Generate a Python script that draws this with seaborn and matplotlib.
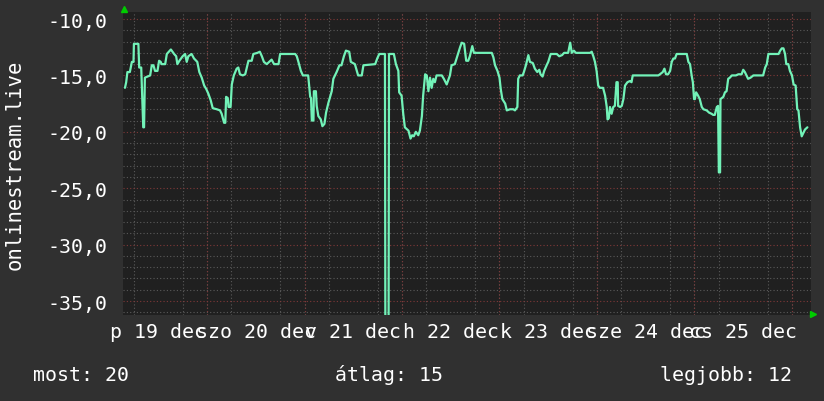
import numpy as np
import pandas as pd
import seaborn as sns
import matplotlib
matplotlib.use("Agg")
import matplotlib.pyplot as plt
from matplotlib.ticker import MultipleLocator, FixedLocator, FuncFormatter

# ora (19 dec 00:00-tol) es jelszint ertekek, a kepről leolvasva
ora = [3.8, 4.1, 4.4, 5.0, 5.5, 5.9, 6.0, 7.1, 7.3, 7.8, 8.3, 8.5, 8.7, 10.0, 10.4, 10.8,
       11.2, 11.8, 12.2, 12.6, 12.8, 13.7, 14.1, 15.1, 15.9, 16.4, 16.7, 17.2, 18.0, 18.6,
       19.0, 19.4, 20.2, 20.8, 21.6, 22.1, 22.7, 23.3, 23.8, 24.3, 24.9, 25.4, 26.4, 27.2,
       27.6, 28.2, 28.5, 28.7, 29.1, 29.3, 29.8, 30.1, 30.6, 31.3, 31.7, 32.1, 32.8, 33.4,
       34.2, 35.0, 35.4, 36.4, 37.0, 37.5, 38.0, 38.7, 39.3, 39.9, 40.5, 41.6, 42.0, 45.7,
       46.1, 46.5, 47.1, 47.6, 48.9, 49.4, 49.6, 49.8, 50.2, 50.3, 50.8, 51.0, 51.4, 52.0,
       52.4, 52.9, 53.3, 53.9, 54.3, 54.7, 55.1, 55.5, 55.9, 56.6, 57.1, 57.7, 58.2, 59.0,
       59.4, 60.4, 61.2, 62.1, 62.5, 65.4, 65.9, 66.4, 67.8, 67.9, 68.7, 68.8, 70.0, 70.5,
       71.1, 71.3, 71.9, 72.3, 72.7, 73.6, 74.1, 74.5, 74.9, 75.4, 76.0, 76.4, 76.9, 77.2,
       77.7, 78.1, 78.5, 78.9, 79.3, 79.7, 80.1, 80.5, 81.8, 82.3, 83.0, 83.8, 84.2, 85.0,
       85.6, 86.3, 86.7, 87.3, 87.8, 88.3, 88.7, 89.3, 89.7, 94.1, 94.5, 94.9, 95.5, 96.0,
       96.3, 96.7, 97.4, 97.8, 98.6, 99.4, 99.8, 100.4, 100.6, 101.0, 101.7, 102.0, 102.5,
       103.1, 103.5, 104.2, 104.7, 105.3, 105.8, 106.1, 106.6, 107.0, 107.6, 108.0, 108.6,
       110.1, 110.7, 111.4, 111.9, 112.9, 113.4, 113.8, 114.3, 114.8, 118.3, 118.7, 119.1,
       119.5, 119.9, 120.3, 120.7, 121.5, 122.0, 122.4, 122.6, 122.9, 123.2, 123.6, 124.0,
       124.4, 124.8, 125.1, 125.2, 125.7, 126.1, 126.5, 126.9, 127.5, 128.1, 128.5, 128.8,
       135.1, 135.5, 136.2, 136.6, 137.0, 137.5, 138.0, 138.4, 138.8, 139.2, 139.6, 142.1,
       142.5, 142.9, 143.3, 143.6, 143.9, 144.1, 144.4, 144.9, 145.3, 145.8, 146.2, 147.0,
       147.6, 148.2, 148.6, 149.0, 149.5, 149.8, 150.0, 150.3, 150.4, 151.1, 151.5, 151.9,
       152.3, 152.7, 153.2, 154.2, 154.8, 155.6, 156.0, 156.4, 156.8, 157.2, 157.8, 158.5,
       160.9, 161.4, 161.8, 162.2, 164.7, 165.1, 165.5, 165.9, 166.3, 166.6, 167.1, 167.5,
       168.0, 168.4, 168.9, 169.3, 169.6, 170.0, 170.4, 170.8, 171.2, 171.8]

jel = [-16.1, -15.6, -14.7, -14.7, -13.8, -13.8, -12.2, -12.2, -14.3, -14.3, -19.6, -19.6,
       -15.2, -15.0, -14.1, -14.1, -14.6, -14.6, -13.7, -13.8, -14.0, -14.0, -13.1, -12.7,
       -13.1, -13.3, -14.0, -13.7, -13.3, -13.1, -13.8, -13.3, -13.1, -13.5, -13.8, -14.7,
       -15.2, -15.9, -16.2, -16.6, -17.2, -17.9, -18.0, -18.1, -18.4, -19.2, -19.2, -16.9,
       -17.0, -17.8, -17.8, -15.8, -15.0, -14.4, -14.3, -14.9, -15.0, -14.9, -13.7, -13.7,
       -13.1, -13.0, -12.9, -13.3, -13.8, -14.0, -13.8, -13.6, -14.0, -14.0, -13.1, -13.1,
       -13.3, -13.8, -14.6, -15.0, -15.0, -16.9, -17.0, -19.0, -19.0, -16.4, -16.4, -17.7,
       -18.6, -18.9, -19.5, -19.3, -18.3, -17.4, -16.9, -16.4, -15.3, -15.0, -14.7, -14.1,
       -14.1, -13.3, -12.8, -12.9, -13.8, -14.0, -15.0, -15.0, -14.1, -14.0, -13.5, -13.1,
       -13.1, -37.0, -37.0, -13.1, -13.1, -14.0, -14.6, -16.5, -16.8, -18.4, -19.6, -19.9,
       -20.6, -20.3, -20.4, -20.0, -20.3, -19.9, -18.6, -16.8, -14.9, -15.0, -16.4, -15.2,
       -16.1, -15.3, -15.6, -15.0, -15.0, -15.3, -15.8, -15.0, -14.1, -14.0, -13.3, -12.5,
       -12.1, -12.2, -13.7, -13.7, -13.3, -12.4, -13.0, -13.0, -13.4, -14.1, -14.6, -15.2,
       -16.2, -17.1, -17.5, -18.1, -18.0, -18.0, -18.1, -17.8, -15.3, -15.0, -15.0, -14.7,
       -14.1, -13.2, -13.8, -13.9, -14.4, -14.7, -14.5, -14.9, -15.1, -14.6, -14.1, -13.8,
       -13.1, -13.1, -13.3, -13.2, -13.0, -13.0, -12.1, -13.0, -12.8, -13.0, -13.0, -12.9,
       -13.3, -13.8, -14.6, -15.9, -16.1, -16.1, -16.8, -17.8, -18.9, -18.8, -17.8, -18.4,
       -17.8, -17.7, -15.6, -15.6, -17.7, -17.8, -17.7, -17.1, -15.9, -15.6, -15.5, -15.6,
       -15.0, -15.0, -14.9, -14.7, -14.4, -14.9, -14.9, -14.6, -13.8, -13.5, -13.5, -13.1,
       -13.1, -13.8, -14.0, -15.0, -15.6, -17.1, -17.1, -16.5, -16.8, -17.1, -17.8, -18.0,
       -18.1, -18.3, -18.4, -18.5, -18.5, -17.8, -17.7, -23.6, -23.6, -17.1, -16.9, -16.5,
       -16.4, -15.3, -15.2, -15.0, -15.0, -14.9, -14.9, -14.5, -14.7, -15.0, -15.3, -15.2,
       -15.0, -15.0, -14.3, -14.0, -13.1, -13.1, -12.8, -12.6, -12.6, -13.1, -14.0, -14.0,
       -14.6, -15.0, -15.8, -15.9, -18.0, -18.1, -19.6, -20.4, -20.1, -19.8, -19.6]

nap_cimkek = ["p 19 dec", "szo 20 dec", "v 21 dec", "h 22 dec", "k 23 dec",
              "sze 24 dec", "cs 25 dec"]
statok = ["most: 20", "átlag: 15", "legjobb: 12"]

df = pd.DataFrame({"ora": ora, "jel": jel})

sns.set_style("dark", {"axes.facecolor": "#202020", "figure.facecolor": "#303030"})
plt.rcParams["font.family"] = ["DejaVu Sans Mono", "DejaVu Sans"]
plt.rcParams["font.size"] = 14.3

fig = plt.figure(figsize=(8.24, 4.02), dpi=100)
ax = fig.add_axes([0.1493, 0.2139, 0.8349, 0.7537])

sns.lineplot(data=df, x="ora", y="jel", ax=ax, color="#72f2b8", linewidth=1.6,
             zorder=5)

ax.set_xlim(3.32, 172.68)
ax.set_ylim(-36.24, -9.38)

# racsvonalak
ax.yaxis.set_major_locator(MultipleLocator(5))
ax.yaxis.set_minor_locator(MultipleLocator(1))
ax.yaxis.set_major_formatter(FuncFormatter(lambda v, p: f"{v:.1f}".replace(".", ",")))
ax.grid(which="minor", axis="y", color="#5a5a5a", linestyle=(0, (1, 2)), linewidth=0.8)
ax.grid(which="major", axis="y", color="#803838", linestyle=(0, (1, 2)), linewidth=0.8)

ax.xaxis.set_major_locator(FixedLocator([12 + 24 * i for i in range(len(nap_cimkek))]))
ax.set_xticklabels(nap_cimkek)
ax.xaxis.set_minor_locator(MultipleLocator(6))
ax.grid(which="minor", axis="x", color="#5a5a5a", linestyle=(0, (1, 2)), linewidth=0.8)
for d in range(1, 8):
    ax.axvline(24 * d, color="#803838", linestyle=(0, (1, 2)), linewidth=0.8, zorder=1)

ax.tick_params(which="both", length=0, colors="white")
ax.tick_params(axis="y", pad=11)
ax.tick_params(axis="x", pad=5)
ax.set_xlabel("")
ax.set_ylabel("")
for s in ax.spines.values():
    s.set_visible(False)

# zold nyilak a tengelyek vegen
ax.plot([0.002], [1.01], marker="^", color="#00cc00", markersize=5,
        transform=ax.transAxes, clip_on=False)
ax.plot([1.003], [0.003], marker=">", color="#00cc00", markersize=5,
        transform=ax.transAxes, clip_on=False)

fig.text(0.018, 0.591, "onlinestream.live", rotation=90, ha="center", va="center",
         color="white", fontsize=14.8)
fig.text(0.040, 0.067, statok[0], ha="left", va="center", color="white")
fig.text(0.4066, 0.067, statok[1], ha="left", va="center", color="white")
fig.text(0.961, 0.067, statok[2], ha="right", va="center", color="white")

fig.savefig("out.png", dpi=100, facecolor=fig.get_facecolor())
